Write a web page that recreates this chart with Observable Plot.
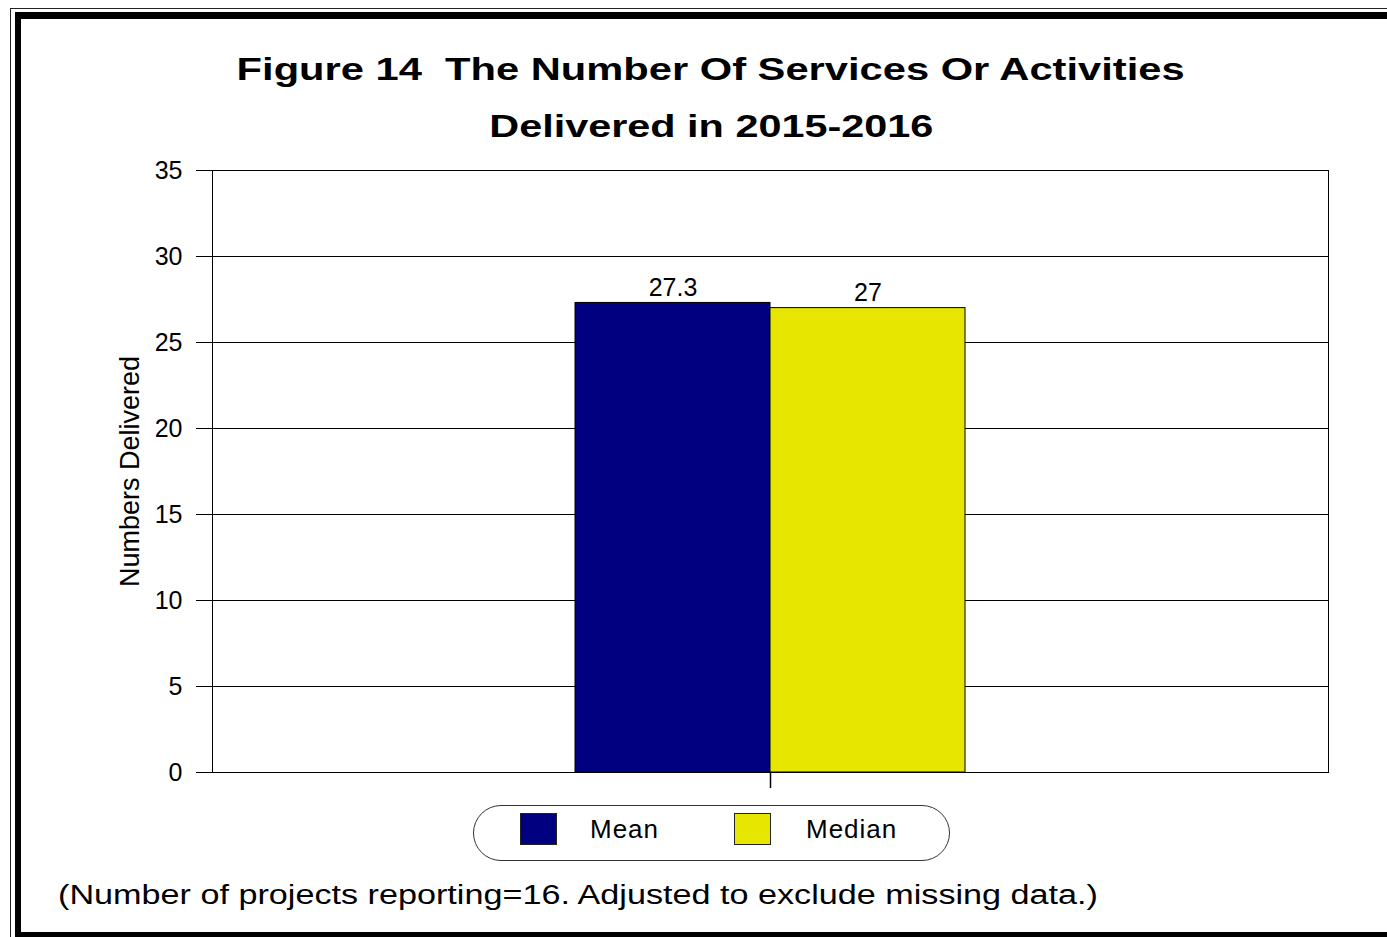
<!DOCTYPE html>
<html>
<head>
<meta charset="utf-8">
<script src="https://cdn.jsdelivr.net/npm/d3@7"></script>
<script src="https://cdn.jsdelivr.net/npm/@observablehq/plot@0.6"></script>
<style>
  html, body { margin: 0; padding: 0; background: #fff; }
  body { width: 1387px; height: 937px; overflow: hidden; position: relative; font-family: "Liberation Sans", Arial, sans-serif; color: #000; }
  .outer { position: absolute; left: 10px; top: 8px; width: 1420px; height: 960px; border: 1px solid #222; box-sizing: border-box; }
  .inner { position: absolute; left: 15px; top: 12px; width: 1420px; height: 926px; border-left: 6px solid #000; border-top: 7px solid #000; border-bottom: 6px solid #000; box-sizing: border-box; }
  .title { position: absolute; left: 0; width: 1422px; text-align: center; font-weight: bold; font-size: 31px; white-space: pre; line-height: 36px; }
  .t { display: inline-block; white-space: pre; }
  #chart { position: absolute; left: 0; top: 150px; }
  .legend { position: absolute; left: 473px; top: 805px; width: 477px; height: 56px; border: 1px solid #333; border-radius: 28px; box-sizing: border-box; }
  .sw { position: absolute; top: 7px; width: 37px; height: 32px; border: 1px solid #222; box-sizing: border-box; }
  .lt { position: absolute; top: 8px; font-size: 26px; line-height: 30px; white-space: nowrap; }
  .caption { position: absolute; left: 58px; top: 878px; font-size: 27px; white-space: pre; line-height: 34px; }
</style>
</head>
<body>
<div class="outer"></div>
<div class="inner"></div>
<div class="title" style="top:52px;"><span class="t" id="t1"></span></div>
<div class="title" style="top:109px;"><span class="t" id="t2"></span></div>
<div id="chart"></div>
<div class="legend" id="legend"></div>
<div class="caption"><span class="t" id="cap"></span></div>
<script>
// ---- data ----
const titleLines = ["Figure 14  The Number Of Services Or Activities", "Delivered in 2015-2016"];
const stats = ["Mean", "Median"];
const values = [27.3, 27];
const valueLabels = ["27.3", "27"];
const colors = ["#000080", "#E6E600"];
const yTicks = [0, 5, 10, 15, 20, 25, 30, 35];
const yLabel = "Numbers Delivered";
const caption = "(Number of projects reporting=16. Adjusted to exclude missing data.)";

const data = stats.map((s, i) => ({stat: s, value: values[i], label: valueLabels[i]}));

// ---- layout ----
const W = 1387, H = 660;
const mL = 212, mR = 59, mT = 20, mB = 38;
const innerW = W - mL - mR;
const groupW = 391;
const paddingOuter = (innerW / (groupW / stats.length) - stats.length) / 2;

const chart = Plot.plot({
  width: W,
  height: H,
  marginLeft: mL,
  marginRight: mR,
  marginTop: mT,
  marginBottom: mB,
  style: {fontFamily: "Liberation Sans, Arial, sans-serif", fontSize: "25px", color: "#000", background: "transparent", overflow: "visible"},
  x: {type: "band", domain: stats, paddingInner: 0, paddingOuter, axis: null},
  y: {domain: [0, 35], axis: null},
  color: {domain: stats, range: colors},
  marks: [
    Plot.gridY(yTicks, {stroke: "#000", strokeOpacity: 1, strokeWidth: 1}),
    Plot.barY(data, {x: "stat", y: "value", fill: "stat", stroke: "#000", strokeWidth: 1}),
    Plot.frame({stroke: "#000", strokeWidth: 1}),
    Plot.ruleX([0], {x: null, y1: 0, y2: 0, insetBottom: -16, stroke: "#000", strokeWidth: 1.5}),
    Plot.axisY({ticks: yTicks, tickSize: 16, tickPadding: 14, fontSize: 25, label: null, stroke: "#000"}),
    Plot.axisY({ticks: [], tickSize: 0, label: yLabel, labelAnchor: "center", labelOffset: 93, labelArrow: "none", fontSize: 27}),
    Plot.text(data, {x: "stat", y: "value", text: "label", dy: -15, fontSize: 25, fill: "#000"})
  ]
});
document.getElementById("chart").appendChild(chart);

// ---- legend ----
const legend = document.getElementById("legend");
const swX = [46, 260], txX = [116, 332];
stats.forEach((s, i) => {
  const sw = document.createElement("div");
  sw.className = "sw"; sw.style.left = swX[i] + "px"; sw.style.background = colors[i];
  legend.appendChild(sw);
  const t = document.createElement("div");
  t.className = "lt"; t.style.left = txX[i] + "px"; t.textContent = s; t.style.letterSpacing = "1px";
  legend.appendChild(t);
});

// ---- texts, stretched horizontally like the reference ----
function fit(el, text, target, origin) {
  el.textContent = text;
  const w = el.getBoundingClientRect().width;
  el.style.transformOrigin = origin;
  el.style.transform = "scaleX(" + (target / w) + ")";
}
fit(document.getElementById("t1"), titleLines[0], 948, "center");
fit(document.getElementById("t2"), titleLines[1], 444, "center");
fit(document.getElementById("cap"), caption, 1040, "left");
</script>
</body>
</html>
